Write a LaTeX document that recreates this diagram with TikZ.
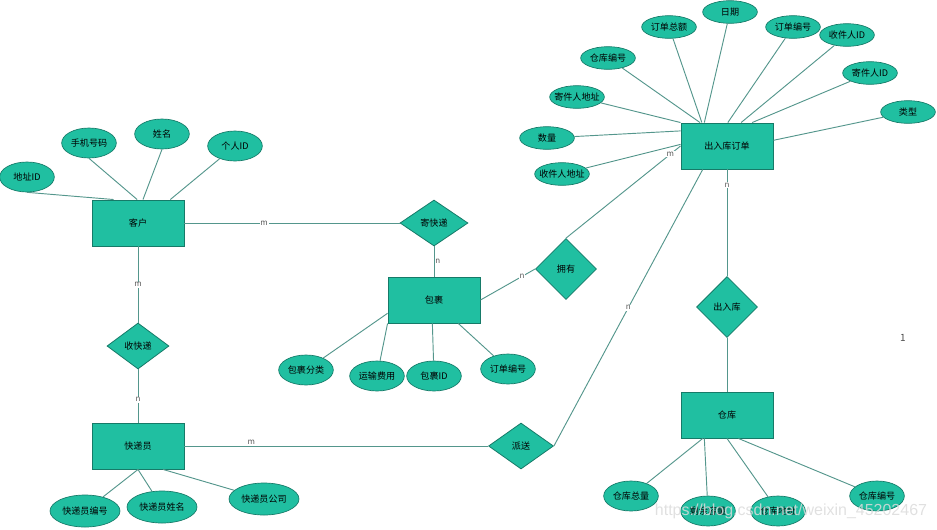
\documentclass[tikz,border=0pt]{standalone}
\usepackage{fontspec}
\newfontfamily\cjk{Noto Sans CJK SC}
\newfontfamily\wmfont{Liberation Sans}
\usetikzlibrary{shapes.geometric}
\definecolor{tealfill}{RGB}{32,191,161}
\definecolor{tealedge}{RGB}{22,122,104}
\definecolor{linkc}{RGB}{84,150,140}
\newcommand{\attrtext}[1]{\makebox[0pt]{#1}}

\begin{document}
\begin{tikzpicture}[x=0.75pt, y=-0.75pt,
	every node/.style={font=\cjk\fontsize{6.8}{8}\selectfont},
	entity/.style={rectangle, draw=tealedge, fill=tealfill, line width=0.7pt, minimum width=69pt, minimum height=34.5pt},
	relation/.style={diamond, draw=tealedge, fill=tealfill, line width=0.6pt, inner sep=0pt, minimum width=#1, minimum height=34.5pt},
	attr/.style={ellipse, draw=tealedge, fill=tealfill, line width=0.5pt, inner sep=0pt, minimum width=41pt, minimum height=22.5pt},
	flatattr/.style={attr, minimum height=17pt},
	wideattr/.style={attr, minimum width=52.5pt, minimum height=24pt},
	link/.style={draw=linkc, line width=0.7pt},
	card/.style={font=\cjk\fontsize{6}{7}\selectfont, text=black!65, fill=white, inner sep=0.6pt}]
	\useasboundingbox (0,0) rectangle (937,529);
	%% entities
	\node[entity] (kehu) at (138,223) {客户};
	\node[entity] (order) at (727,146) {出入库订单};
	\node[entity] (parcel) at (434,300) {包裹};
	\node[entity] (courier) at (138,446) {快递员};
	\node[entity] (store) at (727,415) {仓库};
	%% relations
	\node[relation=51pt] (send) at (434,223) {寄快递};
	\node[relation=46.5pt] (recv) at (138,346) {收快递};
	\node[relation=48.75pt] (deliver) at (521,446) {派送};
	\node[relation=45.75pt, minimum height=45.75pt] (own) at (566,269) {拥有};
	\node[relation=45.75pt, minimum height=45.75pt] (inout) at (727,307) {出入库};
	
	%% attributes of kehu
	\node[attr] (c-addr) at (27,177) {\attrtext{地址ID}};
	\node[attr] (c-phone) at (89,143) {\attrtext{手机号码}};
	\node[attr] (c-name) at (162,134) {\attrtext{姓名}};
	\node[attr] (c-id) at (235,146) {\attrtext{个人ID}};
	\draw[link] (c-addr.south) -- (kehu.136);
	\draw[link] (c-phone.south) -- (kehu.92);
	\draw[link] (c-name.south) -- (kehu.78);
	\draw[link] (c-id) -- (kehu.36);
	
	%% attributes of order
	\node[flatattr] (o-store) at (608,58) {\attrtext{仓库编号}};
	\node[flatattr] (o-total) at (669,27) {\attrtext{订单总额}};
	\node[flatattr] (o-date) at (730,12) {\attrtext{日期}};
	\node[flatattr] (o-no) at (793,27) {\attrtext{订单编号}};
	\node[flatattr] (o-rid) at (847,35) {\attrtext{收件人ID}};
	\node[flatattr] (o-sid) at (870,73) {\attrtext{寄件人ID}};
	\node[flatattr] (o-type) at (908,112) {\attrtext{类型}};
	\node[flatattr] (o-saddr) at (577,97) {\attrtext{寄件人地址}};
	\node[flatattr] (o-num) at (547,138) {\attrtext{数量}};
	\node[flatattr] (o-raddr) at (562,174) {\attrtext{收件人地址}};
	\draw[link] (o-store) -- (order.139);
	\draw[link] (o-total) -- (order.137);
	\draw[link] (o-date) -- (order.134);
	\draw[link] (o-no) -- (order.88);
	\draw[link] (o-rid) -- (order.59);
	\draw[link] (o-sid) -- (order.43);
	\draw[link] (o-type) -- (order.7);
	\draw[link] (o-saddr) -- (order.north west);
	\draw[link] (o-num) -- (order.162);
	\draw[link] (o-raddr) -- (order.178);
	
	%% attributes of parcel
	\node[attr] (p-kind) at (306,370) {\attrtext{包裹分类}};
	\node[attr] (p-fee) at (377,376) {\attrtext{运输费用}};
	\node[attr] (p-id) at (434,376) {\attrtext{包裹ID}};
	\node[attr] (p-no) at (508,369) {\attrtext{订单编号}};
	\draw[link] (p-kind) -- (parcel.196);
	\draw[link] (p-fee) -- (parcel.south west);
	\draw[link] (p-id) -- (parcel.266);
	\draw[link] (p-no) -- (parcel.316);
	
	%% attributes of courier
	\node[wideattr] (k-no) at (85,511) {\attrtext{快递员编号}};
	\node[wideattr] (k-name) at (162,507) {\attrtext{快递员姓名}};
	\node[wideattr] (k-com) at (264,499) {\attrtext{快递员公司}};
	\draw[link] (k-no) -- (courier.south);
	\draw[link] (k-name) -- (courier.south);
	\draw[link] (k-com) -- (courier.317);
	
	%% attributes of store
	\node[attr] (s-total) at (631,496) {\attrtext{仓库总量}};
	\node[attr] (s-left) at (708,511) {\attrtext{剩余容量}};
	\node[attr] (s-addr) at (778,511) {\attrtext{仓库地址}};
	\node[attr] (s-no) at (877,496) {\attrtext{仓库编号}};
	\draw[link] (s-total) -- (store.224);
	\draw[link] (s-left) -- (store.226);
	\draw[link] (s-addr) -- (store.south);
	\draw[link] (s-no) -- (store.296);
	
	%% relations between entities
	\draw[link] (kehu.east) -- node[card, pos=0.37] {m} (send.west);
	\draw[link] (send.south) -- node[card, fill=none, right, pos=0.5] {n} (parcel.north);
	\draw[link] (parcel.east) -- node[card, pos=0.76] {n} (own.west);
	\draw[link] (own.north) -- node[card, pos=0.91] {m} (order.west);
	\draw[link] (kehu.south) -- node[card, pos=0.5] {m} (recv.north);
	\draw[link] (recv.south) -- node[card, pos=0.57] {n} (courier.north);
	\draw[link] (courier.east) -- node[card, fill=none, above, pos=0.22] {m} (deliver.west);
	\draw[link] (deliver.east) -- node[card, pos=0.5] {n} (order.224);
	\draw[link] (order.south) -- node[card, pos=0.15] {n} (inout.north);
	\draw[link] (inout.south) -- (store.north);
	
	\node[font=\cjk\fontsize{7.5}{9}\selectfont, text=black!70] (one) at (903,338) {1};
	\node[font=\wmfont\fontsize{12}{14}\selectfont, text=black!14, text opacity=0.85, inner sep=0pt] (mark) at (791,511) {https://blog.csdn.net/weixin\_45202467};
\end{tikzpicture}
\end{document}
